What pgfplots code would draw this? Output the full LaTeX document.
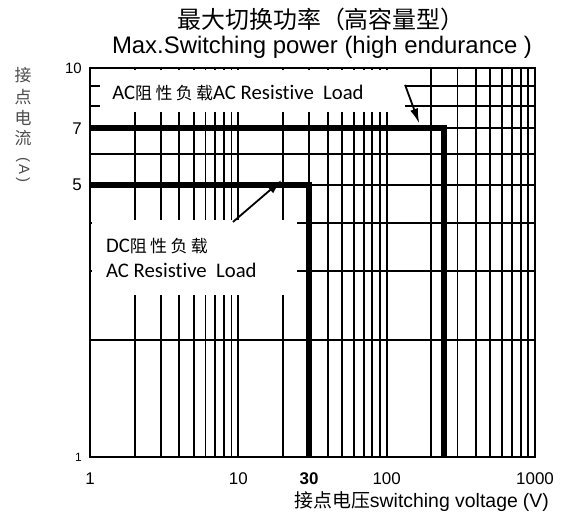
\documentclass[border=0pt]{standalone}
\usepackage{fontspec}
\usepackage{pgfplots}
\pgfplotsset{compat=1.18}
\usetikzlibrary{arrows.meta}
\setmainfont{Liberation Sans}
\newfontfamily\cjk{Noto Sans CJK SC}
\newfontfamily\cjkwide[LetterSpace=20]{Noto Sans CJK SC}
\newfontfamily\lbl[Ligatures=NoCommon]{Carlito}
\newfontfamily\tickfont{Liberation Sans}

\begin{document}
\begin{tikzpicture}[x=1bp,y=1bp]
\begin{axis}[
    at={(0,0)}, anchor=south west,
    scale only axis, width=445bp, height=389bp,
    xmode=log, ymode=log,
    xmin=1, xmax=1000, ymin=1, ymax=10,
    xtick={1,10,30,100,1000},
    xticklabels={1,10,{\bfseries 30},100,1000},
    minor xtick={2,3,4,5,6,7,8,9,20,40,50,60,70,80,90,200,300,400,500,600,700,800,900},
    ytick={1,5,7,10},
    yticklabels={{\fontsize{12}{12}\selectfont 1\hspace{6bp}},{5\hspace{7bp}},{7\hspace{7bp}},{\fontsize{15}{15}\selectfont 10}},
    minor ytick={2,3,4,6,8,9},
    grid=both,
    major grid style={black, line width=1.8bp},
    minor grid style={black, line width=1.8bp},
    axis line style={black, line width=2.3bp},
    major tick length=0pt, minor tick length=0pt,
    xticklabel style={font=\tickfont\fontsize{17}{17}\selectfont, anchor=center, yshift=-22bp},
    yticklabel style={font=\tickfont\fontsize{17}{17}\selectfont, anchor=east, inner sep=0pt, xshift=-8bp},
]
    % white label boxes over the grid
    \fill[white] (axis cs:1.168,7.71) rectangle (axis cs:133,9.88);
    \fill[white] (axis cs:1.03,2.61) rectangle (axis cs:24.9,4.07);

    % AC resistive load limit
    \addplot[black, line width=6bp, line join=miter] coordinates {(1,7) (245,7) (245,1)};
    % DC resistive load limit
    \addplot[black, line width=6bp, line join=miter] coordinates {(1,5) (30,5) (30,1)};

    \draw[-{Latex[length=15bp,width=8bp]}, line width=1.8bp] (axis cs:133,9.05) -- (axis cs:166,7.2);
    \draw[-{Latex[length=15bp,width=9bp]}, line width=1.8bp] (axis cs:9.2,4.02) -- (axis cs:19.6,5.15);

    \node[anchor=base west, inner sep=0pt, font=\lbl\fontsize{20.8}{20.8}\selectfont]
        at (axis cs:1.41,8.28) {AC{\cjkwide\fontsize{17}{17}\selectfont 阻性负载}AC Resistive\ \ Load};
    \node[anchor=base west, inner sep=0pt, font=\lbl\fontsize{20.8}{20.8}\selectfont]
        at (axis cs:1.28,3.365) {DC{\cjkwide\fontsize{17}{17}\selectfont 阻性负载}};
    \node[anchor=base west, inner sep=0pt, font=\lbl\fontsize{20.8}{20.8}\selectfont]
        at (axis cs:1.28,2.90) {AC Resistive\ \ Load};
\end{axis}

% titles
\node[font=\cjk\fontsize{24}{24}\selectfont] at (231,438) {最大切换功率（高容量型）};
\node[font=\fontsize{24}{24}\selectfont] at (232,410) {Max.Switching power (high endurance )};

% y label
\node[text=black!70, font=\cjk\fontsize{17}{17}\selectfont] at (-67,382) {接};
\node[text=black!70, font=\cjk\fontsize{17}{17}\selectfont] at (-67,360) {点};
\node[text=black!70, font=\cjk\fontsize{17}{17}\selectfont] at (-67,339) {电};
\node[text=black!70, font=\cjk\fontsize{17}{17}\selectfont] at (-67,319) {流};
\node[text=black!70, font=\fontsize{15}{15}\selectfont, rotate=-90] at (-67,287) {(\,A\,)};

% x label
\node[anchor=east, inner sep=0pt] at (459,-45)
    {{\cjk\fontsize{19}{19}\selectfont 接点电压}{\fontsize{19.5}{19.5}\selectfont switching voltage\hspace{5bp}(V)}};

\pgfresetboundingbox
\path[use as bounding box] (-90,-61) rectangle (474,457);
\end{tikzpicture}
\end{document}
